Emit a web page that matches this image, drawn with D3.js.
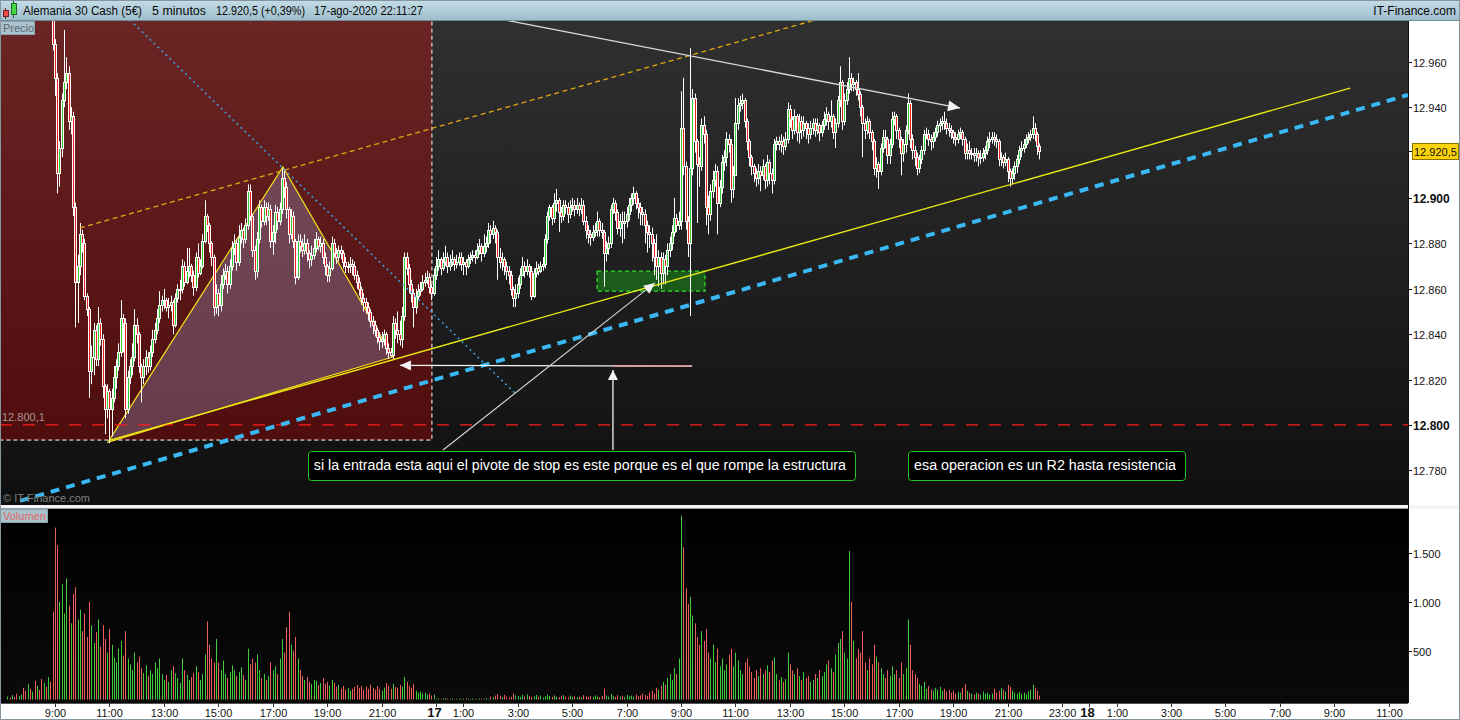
<!DOCTYPE html>
<html><head><meta charset="utf-8">
<script src="https://cdn.jsdelivr.net/npm/d3@7"></script>
<style>body{margin:0;background:#fff;}svg{display:block;}</style>
</head><body>
<svg id="chart" width="1460" height="720"></svg>
<script>
// 5-minute bars, one per slot; slot 0 = Friday 07:00, slot 192 = Monday 00:00
const firstSlot = 3;
const closes = [
12992,12990,12994,12991,12989,12993,12996,12990,12987,12991,12985,12988,12984,12990,12986,12983,12988,12985,12990,12987,
12968,12953,12911,12922,12943,12951,12955,12934,12936,12896,
12863,12870,12884,12880,12857,12851,12824,12830,12842,12829,
12845,12838,12817,12807,12815,12807,12812,12821,12826,12832,
12847,12845,12807,12821,12826,12830,12844,12840,12826,12821,
12826,12830,12826,12832,12838,12842,12847,12853,12855,12855,
12852,12853,12854,12844,12856,12860,12860,12870,12863,12868,
12870,12866,12861,12874,12867,12870,12881,12892,12888,12880,
12874,12852,12858,12853,12862,12866,12868,12862,12870,12878,
12880,12872,12883,12886,12882,12888,12903,12892,12877,12868,
12882,12896,12890,12896,12892,12895,12881,12885,12894,12890,
12895,12909,12905,12895,12884,12892,12881,12865,12881,12879,
12877,12880,12876,12873,12875,12878,12882,12879,12880,12874,
12870,12866,12869,12880,12876,12874,12877,12876,12872,12870,
12870,12871,12870,12866,12863,12860,12856,12854,12852,12850,
12846,12844,12842,12839,12837,12838,12840,12834,12832,12831,
12845,12842,12840,12838,12848,12874,12869,12862,12858,12852,
12857,12859,12860,12863,12864,12865,12861,12858,12866,
12870,12873,12869,12872,12874,12870,12872,12873,12871,12872,
12874,12871,12872,12870,12873,12874,12875,12874,12877,12879,
12876,12879,12880,12886,12884,12887,12885,12874,12872,12873,
12870,12868,12866,12860,12856,12858,12862,12866,12870,12868,
12870,12868,12857,12867,12869,12868,12870,12871,12882,12892,
12896,12891,12898,12899,12894,12892,12897,12896,12893,12896,
12897,12895,12897,12895,12897,12890,12886,12884,12883,12885,
12886,12890,12886,12885,12876,12878,12880,12895,12898,12894,
12887,12890,12889,12890,12893,12897,12900,12902,12898,12896,
12894,12893,12888,12885,12884,12880,12874,12870,12874,12867,
12873,12870,12877,12880,12885,12891,12888,12890,
12931,12914,12890,12880,12913,12944,12925,12915,12914,12932,
12928,12896,12893,12903,12908,12912,12898,12905,12916,12918,
12926,12924,12904,12910,12933,12941,12942,12943,12934,12925,
12918,12914,12911,12909,12912,12910,12914,12908,12916,12911,
12908,12924,12925,12924,12925,12923,12926,12939,12935,12930,
12936,12929,12934,12930,12933,12931,12928,12931,12933,12930,
12932,12929,12932,12935,12937,12934,12936,12929,12933,12943,
12951,12934,12943,12948,12953,12950,12951,12948,12946,12940,
12933,12930,12934,12929,12925,12913,12915,12912,12922,12927,
12926,12919,12924,12935,12936,12930,12926,12920,12924,12930,
12942,12926,12921,12918,12913,12917,12921,12928,12928,12926,
12925,12927,12929,12932,12933,12934,12933,12931,12930,12929,
12927,12926,12928,12929,12926,12920,12921,12920,12920,12919,
12920,12918,12918,12920,12921,12925,12926,12927,12926,12925,
12917,12918,12916,12917,12912,12909,12911,12914,12917,12921,
12922,12924,12926,12927,12928,12931,12928,12923,12920.5];
const highs = [
12995,12993,12997,12994,12993,12996,12998,12996,12991,12993,12991,12990,12988,12992,12991,12987,12990,12989,12993,12991,
12993,12970,12955,12925,12946,12974,12962,12958,12940,12938,
12898,12875,12889,12886,12882,12858,12852,12835,12845,12844,
12852,12847,12840,12818,12818,12816,12816,12826,12829,12836,
12855,12849,12847,12824,12829,12836,12851,12847,12841,12827,
12829,12833,12832,12835,12842,12845,12851,12859,12857,12860,
12856,12856,12857,12855,12858,12862,12864,12873,12872,12878,
12878,12871,12868,12876,12880,12873,12884,12899,12893,12889,
12881,12875,12862,12860,12866,12869,12871,12870,12873,12881,
12884,12882,12888,12889,12887,12891,12906,12906,12893,12879,
12885,12899,12897,12899,12898,12898,12897,12888,12897,12896,
12898,12913,12912,12907,12896,12895,12894,12882,12884,12884,
12882,12884,12882,12877,12879,12882,12885,12883,12883,12882,
12876,12871,12872,12883,12882,12878,12879,12879,12877,12874,
12872,12874,12873,12872,12868,12865,12861,12858,12856,12854,
12851,12848,12846,12843,12841,12841,12842,12841,12836,12834,
12848,12847,12850,12846,12852,12876,12876,12871,12864,12860,
12860,12862,12863,12866,12867,12868,12867,12862,12869,
12874,12877,12874,12876,12879,12876,12875,12877,12874,12875,
12876,12876,12874,12873,12875,12876,12877,12877,12880,12882,
12880,12884,12883,12889,12888,12890,12888,12886,12878,12876,
12874,12872,12870,12868,12861,12862,12865,12869,12874,12872,
12873,12871,12870,12869,12872,12871,12872,12874,12884,12894,
12897,12897,12902,12904,12900,12896,12899,12899,12898,12899,
12900,12899,12900,12898,12900,12899,12892,12888,12886,12888,
12889,12894,12891,12889,12886,12881,12883,12897,12900,12899,
12895,12893,12894,12894,12896,12900,12902,12905,12903,12900,
12898,12896,12895,12890,12888,12887,12882,12884,12877,12876,
12876,12875,12880,12883,12888,12900,12893,12894,
12947,12953,12916,12892,12966,12948,12946,12926,12918,12935,
12936,12930,12901,12906,12912,12915,12914,12908,12919,12921,
12929,12928,12926,12914,12944,12944,12945,12946,12944,12935,
12926,12919,12915,12913,12915,12914,12917,12915,12919,12917,
12913,12926,12927,12927,12928,12927,12929,12942,12941,12936,
12939,12937,12937,12936,12936,12934,12933,12934,12935,12935,
12935,12933,12934,12938,12940,12938,12943,12937,12935,12945,
12958,12952,12946,12951,12962,12955,12953,12952,12955,12947,
12941,12935,12936,12935,12930,12926,12918,12916,12924,12930,
12930,12927,12926,12938,12938,12937,12931,12927,12926,12932,
12946,12943,12928,12923,12920,12919,12923,12930,12931,12930,
12928,12929,12931,12934,12935,12936,12938,12935,12933,12932,
12930,12929,12930,12931,12930,12927,12924,12925,12922,12922,
12922,12921,12921,12922,12923,12927,12929,12929,12929,12928,
12926,12920,12919,12920,12918,12913,12913,12916,12919,12923,
12925,12926,12928,12929,12930,12936,12933,12929,12924];
const lows = [
12988,12987,12989,12988,12987,12988,12992,12987,12984,12986,12982,12984,12981,12983,12983,12980,12982,12982,12984,12983,
12965,12945,12902,12905,12918,12940,12948,12930,12928,12892,
12843,12845,12866,12876,12855,12848,12812,12818,12822,12826,
12826,12835,12812,12796,12803,12792,12795,12810,12816,12824,
12830,12832,12803,12805,12818,12822,12828,12836,12823,12810,
12818,12822,12823,12824,12830,12836,12840,12845,12850,12851,
12850,12847,12850,12840,12843,12854,12855,12858,12861,12862,
12865,12863,12857,12859,12865,12866,12869,12880,12885,12876,
12870,12848,12849,12848,12850,12860,12864,12858,12860,12868,
12875,12868,12870,12880,12878,12880,12886,12890,12874,12864,
12865,12880,12887,12888,12888,12890,12878,12875,12880,12886,
12888,12893,12900,12891,12880,12882,12878,12862,12864,12876,
12874,12875,12872,12869,12870,12873,12876,12877,12876,12871,
12866,12863,12863,12868,12874,12871,12872,12873,12869,12867,
12867,12867,12866,12864,12860,12857,12853,12850,12849,12846,
12843,12840,12839,12836,12833,12834,12835,12831,12829,12830,
12829,12838,12836,12835,12834,12846,12866,12858,12854,12843,
12849,12855,12857,12859,12861,12862,12858,12855,12857,
12864,12868,12866,12868,12870,12867,12868,12870,12868,12869,
12870,12868,12866,12866,12869,12871,12872,12871,12873,12875,
12872,12874,12876,12878,12880,12882,12880,12864,12869,12868,
12866,12864,12862,12857,12852,12852,12856,12860,12866,12865,
12866,12865,12855,12856,12865,12866,12867,12868,12869,12880,
12890,12888,12889,12894,12885,12889,12890,12893,12889,12891,
12894,12892,12893,12892,12893,12888,12882,12880,12879,12881,
12883,12883,12883,12882,12861,12872,12875,12878,12893,12890,
12884,12883,12880,12882,12887,12890,12894,12897,12895,12891,
12888,12888,12880,12876,12878,12872,12866,12864,12861,12860,
12862,12862,12866,12874,12877,12883,12885,12886,
12886,12910,12886,12874,12848,12910,12920,12889,12905,12912,
12924,12888,12884,12890,12900,12905,12884,12896,12902,12912,
12914,12920,12898,12900,12918,12930,12938,12939,12931,12921,
12914,12910,12907,12905,12906,12903,12908,12904,12905,12906,
12902,12906,12921,12921,12920,12919,12921,12924,12931,12926,
12928,12925,12924,12926,12927,12926,12924,12926,12928,12927,
12928,12925,12927,12930,12932,12930,12931,12926,12922,12931,
12940,12930,12932,12941,12946,12947,12947,12945,12943,12936,
12918,12926,12928,12926,12921,12910,12909,12904,12910,12920,
12922,12915,12915,12922,12932,12926,12922,12910,12916,12920,
12928,12922,12917,12914,12910,12911,12915,12919,12926,12923,
12921,12922,12925,12927,12929,12930,12930,12928,12927,12926,
12924,12923,12924,12926,12923,12917,12917,12917,12917,12916,
12916,12914,12915,12916,12917,12919,12922,12924,12923,12922,
12914,12914,12913,12914,12907,12905,12906,12908,12911,12915,
12918,12920,12922,12924,12925,12926,12925,12919,12917];
const volumes = [
30,20,45,25,60,35,50,
120,90,160,110,80,190,140,100,210,170,130,230,180,
900,1760,1580,1000,1180,880,1240,960,780,1080,
1150,820,920,700,880,640,1000,760,580,690,
820,540,760,620,480,720,560,430,380,520,
600,450,700,420,360,300,480,380,440,320,
270,350,240,300,260,380,320,420,260,200,
250,180,300,340,270,220,170,420,300,250,
200,230,270,340,280,200,260,460,800,560,
420,380,620,380,300,400,260,220,280,350,
300,240,280,330,250,200,520,360,420,380,
460,300,220,260,200,240,380,300,340,260,
420,620,480,740,900,560,500,640,420,300,
240,200,230,180,160,200,190,150,170,220,
160,180,140,200,170,130,150,110,140,100,
120,90,110,130,150,120,140,100,130,110,
150,120,100,140,110,90,120,170,140,110,
160,130,120,150,130,230,180,140,120,160,
90,70,80,60,70,50,60,40,50,
8,12,6,10,15,9,7,12,5,8,10,6,9,14,7,5,11,8,6,10,7,9,12,6,
30,22,40,55,35,25,48,30,20,26,60,42,35,28,45,30,52,38,25,33,46,28,40,22,35,
50,35,28,42,30,25,38,45,30,22,40,28,35,26,30,20,45,32,25,38,28,42,30,24,36,
110,
40,30,55,35,28,45,30,38,25,48,32,40,28,50,35,42,60,45,38,
70,90,60,120,100,140,180,150,220,260,200,
320,260,420,
1880,1560,1140,980,1050,860,780,640,560,700,
600,720,480,420,560,380,520,340,420,300,
360,460,520,340,480,400,300,260,380,420,
340,280,220,300,240,320,260,300,350,280,
400,430,260,200,230,180,210,480,360,300,
260,320,240,200,280,220,240,180,200,260,
220,300,240,280,360,400,320,280,460,580,
620,700,480,420,1520,1000,600,420,520,480,
700,380,300,420,360,560,440,380,320,260,
220,300,240,340,260,300,220,380,260,320,
820,560,300,260,220,160,140,180,110,140,
100,90,120,100,130,90,110,80,100,70,
90,60,80,70,120,160,90,70,60,50,
70,60,50,80,60,70,50,60,110,70,
90,120,100,80,150,130,90,70,60,80,
60,70,50,80,100,150,120,90,40];

// time axis
const tickSlots  = [24,48,72,96,120,144,168,192,204,228,252,276,300,324,348,372,396,420,444,468,480,492,516,540,564,588,612];
const tickLabels = ["9:00","11:00","13:00","15:00","17:00","19:00","21:00","17","1:00","3:00","5:00","7:00","9:00","11:00","13:00","15:00","17:00","19:00","21:00","23:00","18","1:00","3:00","5:00","7:00","9:00","11:00"];
const dayTicks = ["17","18"];
const priceTicks = [12780,12800,12820,12840,12860,12880,12900,12940,12960];
const volumeTicks = [500,1000,1500];
const lastPrice = 12920.5;
const refLevel = 12800.1;

// drawings, in (slot, price)
const shadeZone = [[-2, 12990], [190.2, 12793.4]];
const triangle = [[47.4, 12792.5], [124.5, 12913.7], [173.0, 12830.0]];
const channelTop = [[35.0, 12886.8], [359.1, 12978.4]];
const fallingDots = [[57.1, 12978.4], [226.8, 12814.1]];
const supportWide = [[8.6, 12766.6], [620.5, 12945.4]];
const supportLine = [[48.3, 12793.4], [595.0, 12948.4]];
const highsArrow = [[222.4, 12978.4], [423.0, 12939.6]];
const stopArrow = [[304.9, 12826.0], [176.1, 12826.3]];
const stopTail = [[270.0, 12826.0], [304.9, 12826.0]];
const noteArrowUp = [[270.0, 12789.0], [270.0, 12824.3]];
const noteArrowDiag = [[195.1, 12789.0], [288.5, 12862.6]];
const entryZone = [[263.0, 12867.8], [310.6, 12859.0]];
const notes = [
  {x0: 135.5, x1: 376.7, top: 12788.6, bottom: 12775.8, text: "si la entrada esta aqui el pivote de stop es este porque es el que rompe la estructura"},
  {x0: 400.1, x1: 522.2, top: 12788.6, bottom: 12775.8, text: "esa operacion es un R2 hasta resistencia"}
];
const headerItems = ["Alemania 30 Cash (5€)", "5 minutos", "(+0,39%)", "17-ago-2020 22:11:27"];

const FONT = "'Liberation Sans', Arial, sans-serif";
const svg = d3.select("#chart");
const W = 1460, H = 720, plotR = 1408;
const pTop = 21, pBot = 505, vTop = 509, vBot = 703;

const x = d3.scaleLinear().domain([0, 620.5]).range([0.5, plotR]);
const y = d3.scaleLinear().domain([12764.8, 12978.4]).range([pBot, 20]);
const yv = d3.scaleLinear().domain([0, 1950]).range([699.5, vTop]);
const loc = d3.formatLocale({decimal: ",", thousands: ".", grouping: [3], currency: ["", "€"]});
const fInt = loc.format(",d"), f1 = loc.format(",.1f");

const bars = closes.map((c, i) => ({
  slot: firstSlot + i, o: i ? closes[i - 1] : c, h: highs[i], l: lows[i], c, v: volumes[i]
}));

const defs = svg.append("defs");
function grad(id, a, b) {
  const g = defs.append("linearGradient").attr("id", id).attr("x1", 0).attr("y1", 0).attr("x2", 0).attr("y2", 1);
  g.append("stop").attr("offset", 0).attr("stop-color", a);
  g.append("stop").attr("offset", 1).attr("stop-color", b);
}
grad("hdr", "#c4dde8", "#9ebdcb");
grad("pbg", "#303030", "#0f0f0f");
grad("vbg", "#000000", "#0a0a0a");
grad("zone", "#6c2626", "#4f0d0d");
defs.append("clipPath").attr("id", "pclip").append("rect").attr("x", 0).attr("y", pTop).attr("width", plotR).attr("height", pBot - pTop);
defs.append("clipPath").attr("id", "vclip").append("rect").attr("x", 0).attr("y", vTop).attr("width", plotR).attr("height", vBot - vTop);

// frame
svg.append("rect").attr("width", W).attr("height", H).attr("fill", "#fff");
svg.append("rect").attr("width", W).attr("height", 20).attr("fill", "url(#hdr)");
svg.append("line").attr("x1", 0).attr("x2", W).attr("y1", 20.5).attr("y2", 20.5).attr("stroke", "#6f8a96");
svg.append("rect").attr("x", 0).attr("y", pTop).attr("width", plotR).attr("height", pBot - pTop).attr("fill", "url(#pbg)");
svg.append("rect").attr("x", 0).attr("y", vTop).attr("width", plotR).attr("height", vBot - vTop).attr("fill", "url(#vbg)");
svg.append("rect").attr("x", 0).attr("y", pBot).attr("width", W).attr("height", vTop - pBot).attr("fill", "#f4f4f4");
svg.append("line").attr("x1", 0).attr("x2", plotR).attr("y1", vTop - 0.5).attr("y2", vTop - 0.5).attr("stroke", "#9aa0a4");

// header
const hd = svg.append("g").attr("font-family", FONT).attr("font-size", 12).attr("fill", "#0a0a0a");
hd.append("line").attr("x1", 5.5).attr("x2", 5.5).attr("y1", 8).attr("y2", 19).attr("stroke", "#6a2020");
hd.append("rect").attr("x", 3.5).attr("y", 10.5).attr("width", 5).attr("height", 6).attr("fill", "#ee4848").attr("stroke", "#7a2020");
hd.append("line").attr("x1", 13.5).attr("x2", 13.5).attr("y1", 1).attr("y2", 18).attr("stroke", "#206020");
hd.append("rect").attr("x", 11.5).attr("y", 3.5).attr("width", 5).attr("height", 11).attr("fill", "#44d844").attr("stroke", "#206a20");
const headerTexts = [headerItems[0], headerItems[1], f1(lastPrice) + " " + headerItems[2], headerItems[3]];
const headerX = [23, 152, 216, 314], headerLen = [119, 54, 89, 109];
headerTexts.forEach((t, i) => hd.append("text").attr("x", headerX[i]).attr("y", 15)
  .attr("textLength", headerLen[i]).attr("lengthAdjust", "spacingAndGlyphs").text(t));
hd.append("text").attr("x", 1456).attr("y", 15).attr("text-anchor", "end").text("IT-Finance.com");

// price panel drawings under the bars
const pg = svg.append("g").attr("clip-path", "url(#pclip)");
pg.append("rect")
  .attr("x", x(shadeZone[0][0])).attr("y", y(shadeZone[0][1]))
  .attr("width", x(shadeZone[1][0]) - x(shadeZone[0][0])).attr("height", y(shadeZone[1][1]) - y(shadeZone[0][1]))
  .attr("fill", "url(#zone)");
pg.append("path")
  .attr("d", `M${x(shadeZone[1][0])},${y(shadeZone[0][1])}V${y(shadeZone[1][1])}H0`)
  .attr("fill", "none").attr("stroke", "#fff").attr("stroke-width", 1).attr("stroke-dasharray", "4,3");
pg.append("polygon").attr("points", triangle.map(p => [x(p[0]), y(p[1])].join(",")).join(" "))
  .attr("fill", "rgba(160,170,220,0.3)").attr("stroke", "#f2e21a").attr("stroke-width", 1.2);
pg.append("line").attr("x1", 0).attr("x2", plotR).attr("y1", y(refLevel)).attr("y2", y(refLevel))
  .attr("stroke", "#ff1c1c").attr("stroke-width", 1.4).attr("stroke-dasharray", "12,11");
pg.append("rect")
  .attr("x", x(entryZone[0][0])).attr("y", y(entryZone[0][1]))
  .attr("width", x(entryZone[1][0]) - x(entryZone[0][0])).attr("height", y(entryZone[1][1]) - y(entryZone[0][1]))
  .attr("fill", "#1c5c1a").attr("stroke", "#2ee02e").attr("stroke-width", 1.3).attr("stroke-dasharray", "4,3");

// candles
const cg = pg.append("g");
const cx = d => Math.round(x(d.slot));
cg.selectAll("line.w").data(bars).join("line").attr("class", "w")
  .attr("x1", d => cx(d) + 0.5).attr("x2", d => cx(d) + 0.5)
  .attr("y1", d => y(d.h)).attr("y2", d => y(d.l)).attr("stroke", "#fff").attr("stroke-width", 1);
const bodyTop = d => Math.round(y(Math.max(d.o, d.c)));
const bodyH = d => Math.max(1, Math.round(y(Math.min(d.o, d.c))) - bodyTop(d));
cg.selectAll("rect.b").data(bars).join("rect").attr("class", "b")
  .attr("x", d => cx(d) - 1).attr("y", bodyTop).attr("width", 3).attr("height", d => bodyH(d) + 1).attr("fill", "#fff");
cg.selectAll("rect.f").data(bars.filter(d => d.c !== d.o && bodyH(d) >= 2)).join("rect").attr("class", "f")
  .attr("x", cx).attr("y", d => bodyTop(d) + 1).attr("width", 1).attr("height", d => bodyH(d) - 1)
  .attr("fill", d => d.c > d.o ? "#34cc34" : "#e42222");

// trend lines and arrows
function seg(p, stroke, w, dash) {
  return pg.append("line").attr("x1", x(p[0][0])).attr("y1", y(p[0][1])).attr("x2", x(p[1][0])).attr("y2", y(p[1][1]))
    .attr("stroke", stroke).attr("stroke-width", w).attr("stroke-dasharray", dash || null);
}
function head(p, fill, len, half) {
  const x1 = x(p[0][0]), y1 = y(p[0][1]), x2 = x(p[1][0]), y2 = y(p[1][1]);
  const a = Math.atan2(y2 - y1, x2 - x1), bx = x2 - len * Math.cos(a), by = y2 - len * Math.sin(a);
  const nx = -Math.sin(a) * half, ny = Math.cos(a) * half;
  pg.append("polygon").attr("points", `${x2},${y2} ${bx + nx},${by + ny} ${bx - nx},${by - ny}`).attr("fill", fill);
}
seg(channelTop, "#e0a810", 1.3, "5,3.5");
seg(fallingDots, "#3c9cd8", 1.6, "2,3.5");
seg(supportWide, "#3ab8f4", 4, "9,7");
seg(supportLine, "#ecea12", 1.4);
seg(highsArrow, "#d8d8d8", 1.3); head(highsArrow, "#f2f2f2", 12, 5.5);
seg(stopArrow, "#f4f4f4", 1.3); seg(stopTail, "#f29a9a", 1.3); head(stopArrow, "#f4f4f4", 11, 5);
seg(noteArrowUp, "#f4f4f4", 1.3); head(noteArrowUp, "#f4f4f4", 10, 5);
seg(noteArrowDiag, "#d6d6d6", 1.1); head(noteArrowDiag, "#f0f0f0", 11, 5);

// notes
const ng = svg.append("g").attr("font-family", FONT).attr("font-size", 14);
notes.forEach(n => {
  const bx = x(n.x0), by = y(n.top), bw = x(n.x1) - x(n.x0), bh = y(n.bottom) - y(n.top);
  ng.append("rect").attr("x", Math.round(bx) + 0.5).attr("y", Math.round(by) + 0.5).attr("width", Math.round(bw)).attr("height", Math.round(bh))
    .attr("rx", 3).attr("fill", "#000").attr("stroke", "#22c822").attr("stroke-width", 1);
  ng.append("text").attr("x", bx + 6).attr("y", by + bh / 2 + 5).attr("fill", "#fff")
    .attr("textLength", bw - 15).attr("lengthAdjust", "spacingAndGlyphs").text(n.text);
});

// panel labels
const lg = svg.append("g").attr("font-family", FONT).attr("font-size", 11);
lg.append("rect").attr("x", 0.5).attr("y", 21.5).attr("width", 34).attr("height", 13).attr("fill", "#a9c2ce").attr("stroke", "#8aa2ae");
lg.append("text").attr("x", 3).attr("y", 32).attr("fill", "#5d6c74").text("Precio");
lg.append("rect").attr("x", 0.5).attr("y", 509.5).attr("width", 47).attr("height", 13).attr("fill", "#a9c2ce").attr("stroke", "#8aa2ae");
lg.append("text").attr("x", 3).attr("y", 520).attr("fill", "#e06666").text("Volumen");
lg.append("text").attr("x", 3).attr("y", 502).attr("fill", "#808080").text("© IT-Finance.com");
lg.append("text").attr("x", 2).attr("y", y(refLevel) - 4).attr("fill", "#a89494").text(f1(refLevel));

// volume
const vg = svg.append("g").attr("clip-path", "url(#vclip)");
vg.selectAll("rect").data(bars).join("rect")
  .attr("x", cx).attr("width", 1)
  .attr("y", d => yv(d.v)).attr("height", d => yv(0) - yv(d.v))
  .attr("fill", d => d.c >= d.o ? "#3ccc3c" : "#ee5c5c");

// right axes
svg.append("line").attr("x1", plotR + 0.5).attr("x2", plotR + 0.5).attr("y1", pTop).attr("y2", vBot).attr("stroke", "#111");
const ax = svg.append("g").attr("font-family", FONT).attr("fill", "#111");
priceTicks.forEach(p => {
  const yy = Math.round(y(p)) + 0.5, bold = p % 100 === 0;
  ax.append("line").attr("x1", plotR).attr("x2", plotR + 4).attr("y1", yy).attr("y2", yy).attr("stroke", "#111");
  ax.append("text").attr("x", plotR + 5).attr("y", yy + 4).attr("font-size", bold ? 12 : 11)
    .attr("font-weight", bold ? "bold" : "normal").text(fInt(p));
});
volumeTicks.forEach(v => {
  const yy = Math.round(yv(v)) + 0.5;
  ax.append("line").attr("x1", plotR).attr("x2", plotR + 4).attr("y1", yy).attr("y2", yy).attr("stroke", "#111");
  ax.append("text").attr("x", plotR + 5).attr("y", yy + 4).attr("font-size", 11).text(fInt(v));
});
const ly = Math.round(y(lastPrice)) + 0.5;
ax.append("line").attr("x1", plotR).attr("x2", plotR + 4).attr("y1", ly).attr("y2", ly).attr("stroke", "#111");
ax.append("rect").attr("x", plotR + 4.5).attr("y", ly - 8).attr("width", 46).attr("height", 16).attr("fill", "#fcd20a").attr("stroke", "#8a7400");
ax.append("text").attr("x", plotR + 6).attr("y", ly + 4).attr("font-size", 11).text(f1(lastPrice));

// time axis
svg.append("line").attr("x1", 0).attr("x2", plotR).attr("y1", vBot + 0.5).attr("y2", vBot + 0.5).attr("stroke", "#555");
const tx = svg.append("g").attr("font-family", FONT).attr("fill", "#111").attr("text-anchor", "middle");
tickSlots.forEach((s, i) => {
  const xx = Math.round(x(s)) + 0.5, day = dayTicks.includes(tickLabels[i]);
  tx.append("line").attr("x1", xx).attr("x2", xx).attr("y1", vBot).attr("y2", vBot + 4).attr("stroke", "#333");
  tx.append("text").attr("x", day ? xx - 2 : xx).attr("y", 717)
    .attr("font-size", day ? 13 : 11).attr("font-weight", day ? "bold" : "normal").text(tickLabels[i]);
});

svg.append("rect").attr("x", 0.5).attr("y", 0.5).attr("width", W - 1).attr("height", H - 1).attr("fill", "none").attr("stroke", "#8696a0");
</script>
</body></html>
